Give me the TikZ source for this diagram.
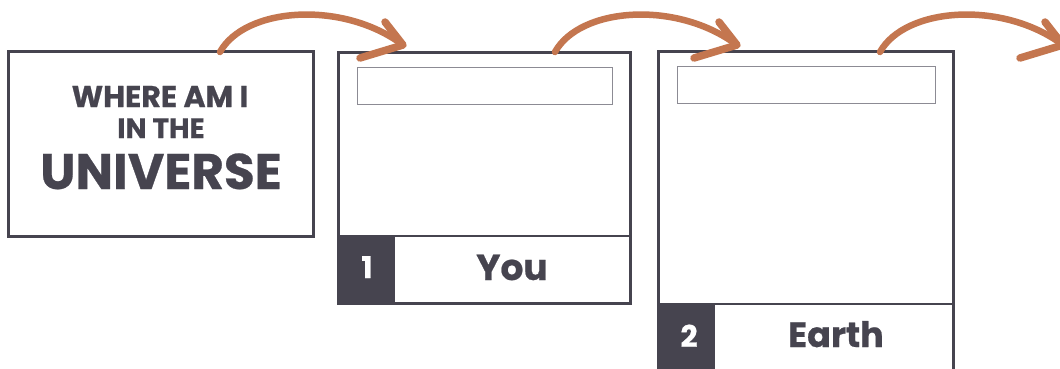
\documentclass[tikz,border=0pt]{standalone}
\usepackage{fontspec}
\setmainfont{Poppins}[BoldFeatures={FakeBold=0.6}]
\usetikzlibrary{calc}
\definecolor{ink}{HTML}{46444F}
\definecolor{rust}{HTML}{C4764F}
\definecolor{rim}{HTML}{8C8B94}
\begin{document}
\begin{tikzpicture}[x=1pt,y=-1pt,
  panel/.style={draw=ink,line width=3pt,fill=white,inner sep=0pt},
  slot/.style={draw=rim,line width=1pt,inner sep=0pt},
  numbox/.style={fill=ink,draw=ink,line width=1pt,inner sep=0pt},
  divider/.style={draw=ink,line width=2pt},
  lbl/.style={anchor=base,inner sep=0pt,text=ink,font=\bfseries\fontsize{#1}{#1}\selectfont},
  numlbl/.style={anchor=base,inner sep=0pt,text=white,font=\bfseries\fontsize{#1}{#1}\selectfont},
  brush/.style={draw=rust,line width=6.5pt,line cap=round,line join=round},
  barb/.style={draw=rust,line width=7.5pt,line cap=round,line join=round}]
\useasboundingbox (0,0) rectangle (1060,369);
\clip (0,0) rectangle (1060,369);
\fill[white] (0,0) rectangle (1060,369);

% title box
\node[panel,minimum width=305pt,minimum height=184pt] (title) at (160.5,144) {};
\node[lbl=30] (t1) at (160,107) {WHERE AM I};
\node[lbl=28] (t2) at (161,138) {IN THE};
\node[lbl=50] (t3) at (161,189) {UNIVERSE};

% card 1
\node[panel,minimum width=292pt,minimum height=250pt] (card1) at (484,178) {};
\draw[divider] (338,236) -- (630,236);
\node[numbox,minimum width=56pt,minimum height=67pt] (n1) at (366,269.5) {};
\node[slot,minimum width=255pt,minimum height=36pt] (s1) at (484.5,86) {};
\node[numlbl=30] (l1) at (367,278) {1};
\node[lbl=36] (y1) at (512,280) {You};

% card 2
\node[panel,minimum width=295pt,minimum height=348pt] (card2) at (805.5,226) {};
\draw[divider] (658,304) -- (953,304);
\node[numbox,minimum width=56pt,minimum height=96pt] (n2) at (686,352) {};
\node[slot,minimum width=258pt,minimum height=36pt] (s2) at (806,85) {};
\node[numlbl=30] (l2) at (689,347) {2};
\node[lbl=35] (e2) at (836,347) {Earth};

% arrow anchors
\coordinate (a1s) at (220,52);
\coordinate (a1e) at (403,45);
\coordinate (a2s) at (555,52);
\coordinate (a2e) at (737,45);
\coordinate (a3s) at (880,52);
\coordinate (a3e) at (1063,45);

\foreach \s/\e in {a1s/a1e,a2s/a2e,a3s/a3e}{
  \draw[brush] (\s) .. controls ($(\s)+(25,-45)$) and ($(\e)+(-60,-45)$) .. (\e);
  \draw[barb] ($(\e)+(-18,-23)$) -- (\e) -- ($(\e)+(-43,13)$);
}
\end{tikzpicture}
\end{document}
